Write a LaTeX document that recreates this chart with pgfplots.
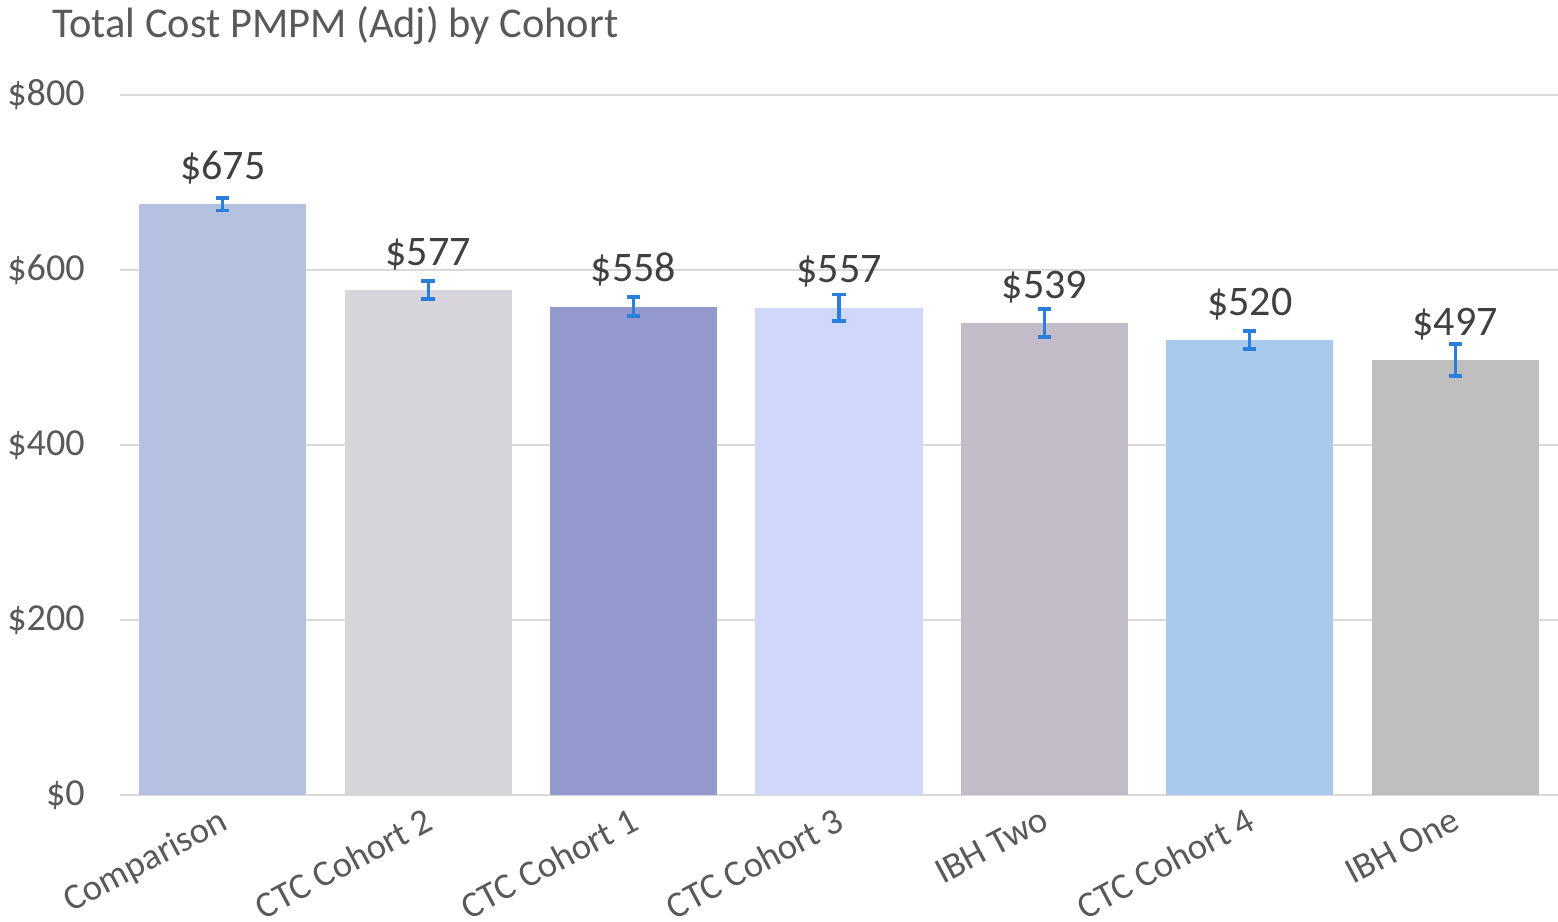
\documentclass[border=0pt]{standalone}
\usepackage{fontspec}
\setmainfont{Carlito}
\usepackage{pgfplots}
\pgfplotsset{compat=1.18}
\definecolor{c1}{HTML}{B4C1E0}
\definecolor{c2}{HTML}{D8D4DB}
\definecolor{c3}{HTML}{9398CD}
\definecolor{c4}{HTML}{CFD7FA}
\definecolor{c5}{HTML}{C3BBC8}
\definecolor{c6}{HTML}{A9CAED}
\definecolor{c7}{HTML}{BFBFBF}
\definecolor{errblue}{HTML}{2B7FDC}
\definecolor{gridgray}{HTML}{D9D9D9}
\definecolor{ticktext}{HTML}{595959}
\definecolor{labeltext}{HTML}{404040}
\begin{document}
\begin{tikzpicture}
\begin{axis}[name=ax, scale only axis, width=369.2pt, height=179.7pt,
  xmin=-0.5, xmax=6.5, ymin=0, ymax=800, ytick={0,200,...,800},
  xtick={0,...,6},
  xticklabels={Comparison, CTC Cohort 2, CTC Cohort 1, CTC Cohort 3, IBH Two, CTC Cohort 4, IBH One},
  major tick length=0pt, axis line style={draw=none},
  ymajorgrids, grid style={gridgray, line width=0.6pt},
  ybar, bar width=42.9pt,
  yticklabel={\$\pgfmathprintnumber[assume math mode=true]{\tick}},
  yticklabel style={font=\fontsize{9.8}{11}\selectfont, text=ticktext, xshift=-5.5pt},
  xticklabel style={font=\fontsize{9.4}{11}\selectfont, text=ticktext, rotate=28, anchor=north east, xshift=1pt, yshift=1.5pt},
  nodes near coords={\$\pgfmathprintnumber[assume math mode=true]{\pgfplotspointmeta}},
  nodes near coords style={font=\fontsize{10.8}{13}\selectfont, text=labeltext, anchor=base, yshift=6.4pt},
  error bars/y dir=both, error bars/y explicit,
  error bars/error bar style={errblue, line width=0.8pt},
  error bars/error mark options={rotate=90, errblue, mark size=1.7pt, line width=1pt},
]
\addplot[fill=c1, draw=none, bar shift=0pt] coordinates {(0,675) +- (0,7)};
\addplot[fill=c2, draw=none, bar shift=0pt] coordinates {(1,577) +- (0,10)};
\addplot[fill=c3, draw=none, bar shift=0pt] coordinates {(2,558) +- (0,11)};
\addplot[fill=c4, draw=none, bar shift=0pt] coordinates {(3,557) +- (0,15)};
\addplot[fill=c5, draw=none, bar shift=0pt] coordinates {(4,539) +- (0,16)};
\addplot[fill=c6, draw=none, bar shift=0pt] coordinates {(5,520) +- (0,10)};
\addplot[fill=c7, draw=none, bar shift=0pt] coordinates {(6,497) +- (0,18)};
\end{axis}
\node[anchor=base west, font=\fontsize{10.9}{13}\selectfont, text=ticktext, inner sep=0pt] at ([xshift=-17.5pt, yshift=14.9pt]ax.north west) {Total Cost PMPM (Adj) by Cohort};
\pgfresetboundingbox
\path[use as bounding box] ([xshift=-30.8pt, yshift=-32.6pt]ax.south west) rectangle ([yshift=24.4pt]ax.north east);
\end{tikzpicture}
\end{document}
